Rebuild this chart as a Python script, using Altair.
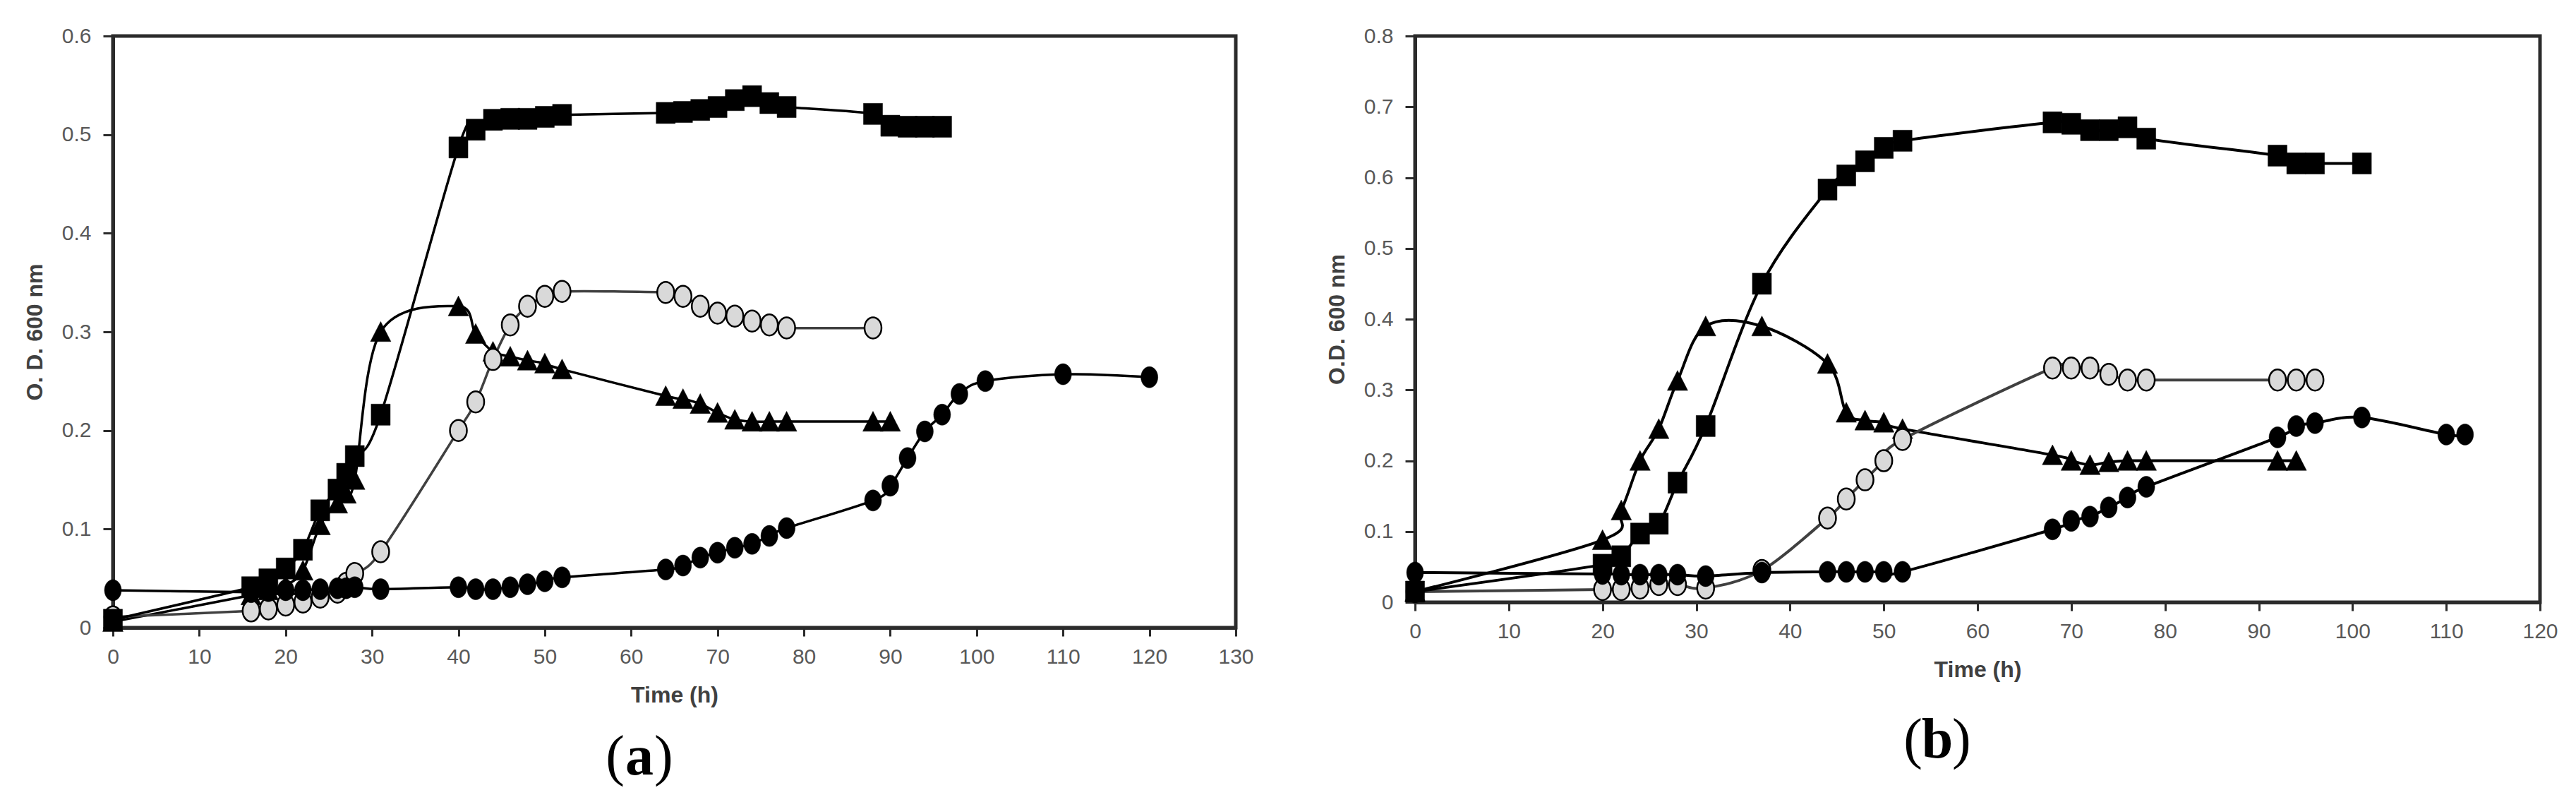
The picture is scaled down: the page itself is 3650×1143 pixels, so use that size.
import altair as alt
import pandas as pd

# ---------------- Panel (a) ----------------
a_sq_t = [0, 16, 18, 20, 22, 24, 26, 27, 28, 31, 40, 42, 44, 46, 48, 50, 52,
          64, 66, 68, 70, 72, 74, 76, 78, 88, 90, 92, 94, 96]
a_sq_v = [0.008, 0.041, 0.049, 0.060, 0.079, 0.119, 0.140, 0.156, 0.174, 0.216,
          0.487, 0.505, 0.515, 0.516, 0.516, 0.518, 0.520,
          0.522, 0.523, 0.525, 0.528, 0.535, 0.539, 0.532, 0.528, 0.521,
          0.509, 0.508, 0.508, 0.508]

a_oc_t = [0, 16, 18, 20, 22, 24, 26, 27, 28, 31, 40, 42, 44, 46, 48, 50, 52,
          64, 66, 68, 70, 72, 74, 76, 78, 88]
a_oc_v = [0.011, 0.017, 0.019, 0.023, 0.026, 0.031, 0.036, 0.045, 0.055, 0.077,
          0.200, 0.229, 0.272, 0.307, 0.326, 0.336, 0.341,
          0.340, 0.336, 0.326, 0.319, 0.316, 0.311, 0.307, 0.304, 0.304]

a_tr_t = [0, 16, 18, 20, 22, 24, 26, 27, 28, 31, 40, 42, 44, 46, 48, 50, 52,
          64, 66, 68, 70, 72, 74, 76, 78, 88, 90]
a_tr_v = [0.006, 0.033, 0.038, 0.043, 0.058, 0.104, 0.126, 0.136, 0.150, 0.300,
          0.326, 0.298, 0.280, 0.275, 0.271, 0.268, 0.262,
          0.235, 0.232, 0.227, 0.218, 0.211, 0.209, 0.209, 0.209, 0.209, 0.209]

a_bc_t = [0, 16, 18, 20, 22, 24, 26, 27, 28, 31, 40, 42, 44, 46, 48, 50, 52,
          64, 66, 68, 70, 72, 74, 76, 78, 88, 90, 92, 94, 96, 98, 101, 110, 120]
a_bc_v = [0.038, 0.036, 0.037, 0.038, 0.038, 0.039, 0.040, 0.040, 0.041, 0.039,
          0.041, 0.039, 0.039, 0.041, 0.044, 0.047, 0.051,
          0.059, 0.063, 0.071, 0.076, 0.081, 0.085, 0.093, 0.101, 0.129,
          0.144, 0.172, 0.199, 0.216, 0.237, 0.250, 0.257, 0.254]

# ---------------- Panel (b) ----------------
b_sq_t = [0, 20, 22, 24, 26, 28, 31, 37, 44, 46, 48, 50, 52,
          68, 70, 72, 74, 76, 78, 92, 94, 96, 101]
b_sq_v = [0.015, 0.053, 0.065, 0.097, 0.111, 0.169, 0.249, 0.450,
          0.583, 0.603, 0.623, 0.642, 0.652,
          0.678, 0.676, 0.667, 0.667, 0.671, 0.655, 0.631, 0.620, 0.620, 0.620]

b_oc_t = [0, 20, 22, 24, 26, 28, 31, 37, 44, 46, 48, 50, 52,
          68, 70, 72, 74, 76, 78, 92, 94, 96]
b_oc_v = [0.015, 0.018, 0.018, 0.020, 0.025, 0.025, 0.020, 0.045,
          0.119, 0.146, 0.173, 0.200, 0.230,
          0.331, 0.331, 0.331, 0.322, 0.314, 0.314, 0.314, 0.314, 0.314]

b_tr_t = [0, 20, 22, 24, 26, 28, 31, 37, 44, 46, 48, 50, 52,
          68, 70, 72, 74, 76, 78, 92, 94]
b_tr_v = [0.015, 0.088, 0.130, 0.200, 0.245, 0.313, 0.390, 0.390,
          0.337, 0.268, 0.257, 0.254, 0.245,
          0.208, 0.200, 0.194, 0.198, 0.200, 0.200, 0.200, 0.200]

b_bc_t = [0, 20, 22, 24, 26, 28, 31, 37, 44, 46, 48, 50, 52,
          68, 70, 72, 74, 76, 78, 92, 94, 96, 101, 110, 112]
b_bc_v = [0.042, 0.040, 0.039, 0.039, 0.039, 0.039, 0.037, 0.042,
          0.043, 0.043, 0.043, 0.043, 0.043,
          0.103, 0.115, 0.121, 0.134, 0.148, 0.163, 0.233, 0.249, 0.253,
          0.261, 0.237, 0.237]

ELLIPSE = "M-0.8,0A0.8,1,0,1,0,0.8,0A0.8,1,0,1,0,-0.8,0Z"
RECT = "M-0.9,-1L0.9,-1L0.9,1L-0.9,1Z"
TRI = "M0,-1L1,0.95L-1,0.95Z"

STYLES = {
    "tri": dict(shape=TRI, size=841, fill="black", stroke="black", sw=0.5, line="black"),
    "oc": dict(shape=ELLIPSE, size=900, fill="#d9d9d9", stroke="black", sw=2.5, line="#404040"),
    "sq": dict(shape=RECT, size=900, fill="black", stroke="black", sw=0.5, line="black"),
    "bc": dict(shape=ELLIPSE, size=900, fill="black", stroke="black", sw=0.5, line="black"),
}


def make_df(pairs):
    frames = []
    for key, (t, v) in pairs.items():
        frames.append(pd.DataFrame({"t": t, "v": v, "s": key}))
    return pd.concat(frames, ignore_index=True)


def panel(df, xmax, ymax, w, h, xtitle, ytitle, letter, lx, ly, lw):
    x = alt.X("t:Q", scale=alt.Scale(domain=[0, xmax], nice=False),
              axis=alt.Axis(values=list(range(0, xmax + 1, 10)), format="d",
                            title=xtitle))
    y = alt.Y("v:Q", scale=alt.Scale(domain=[0, ymax], nice=False),
              axis=alt.Axis(values=[round(i * 0.1, 1) for i in range(int(round(ymax * 10)) + 1)],
                            format=".1~f", title=ytitle))
    base = alt.Chart(df)
    layers = []
    for key in ["tri", "oc", "sq", "bc"]:
        st = STYLES[key]
        sub = base.transform_filter(alt.datum.s == key)
        layers.append(sub.mark_line(color=st["line"], strokeWidth=lw,
                                    interpolate="cardinal", tension=0)
                      .encode(x=x, y=y))
        layers.append(sub.mark_point(shape=st["shape"], size=st["size"], filled=True,
                                     fill=st["fill"], stroke=st["stroke"],
                                     strokeWidth=st["sw"], opacity=1)
                      .encode(x=x, y=y))
    one = alt.Chart(pd.DataFrame({"k": [0]}))
    tf = "Liberation Serif"
    layers.append(one.mark_text(text="(", font=tf, fontSize=80, align="right",
                                baseline="alphabetic", color="black")
                  .encode(x=alt.value(lx - 21), y=alt.value(ly)))
    layers.append(one.mark_text(text=letter, font=tf, fontSize=80, fontWeight="bold",
                                align="center", baseline="alphabetic", color="black")
                  .encode(x=alt.value(lx), y=alt.value(ly)))
    layers.append(one.mark_text(text=")", font=tf, fontSize=80, align="left",
                                baseline="alphabetic", color="black")
                  .encode(x=alt.value(lx + 21), y=alt.value(ly)))
    return alt.layer(*layers).properties(width=w, height=h)


df_a = make_df({"tri": (a_tr_t, a_tr_v), "oc": (a_oc_t, a_oc_v),
                "sq": (a_sq_t, a_sq_v), "bc": (a_bc_t, a_bc_v)})
df_b = make_df({"tri": (b_tr_t, b_tr_v), "oc": (b_oc_t, b_oc_v),
                "sq": (b_sq_t, b_sq_v), "bc": (b_bc_t, b_bc_v)})

pa = panel(df_a, 130, 0.6, 1591, 838, "Time (h)", "O. D. 600 nm", "a", 746, 1046, 3.5)
pb = panel(df_b, 120, 0.8, 1594, 802, "Time  (h)", "O.D.  600 nm", "b", 740, 1022, 4)

chart = (
    alt.hconcat(pa, pb, spacing=254, bounds="flush")
    .properties(padding={"left": 22, "top": 25, "right": 5, "bottom": 5},
                background="white")
    .configure_axis(domainColor="#2b2b2b", domainWidth=5, tickColor="#2b2b2b",
                    tickWidth=3, grid=False, labelFont="Liberation Sans",
                    labelFontSize=30, labelColor="#595959",
                    titleFont="Liberation Sans", titleFontSize=32,
                    titleFontWeight="bold", titleColor="#404040",
                    labelFlush=False, labelOverlap=False)
    .configure_axisX(tickSize=12, labelPadding=14, titlePadding=24)
    .configure_axisY(tickSize=14, labelPadding=17, titlePadding=21)
    .configure_view(stroke="#2b2b2b", strokeWidth=5)
)

chart.save("out.html", embed_options={"renderer": "svg", "actions": False})
